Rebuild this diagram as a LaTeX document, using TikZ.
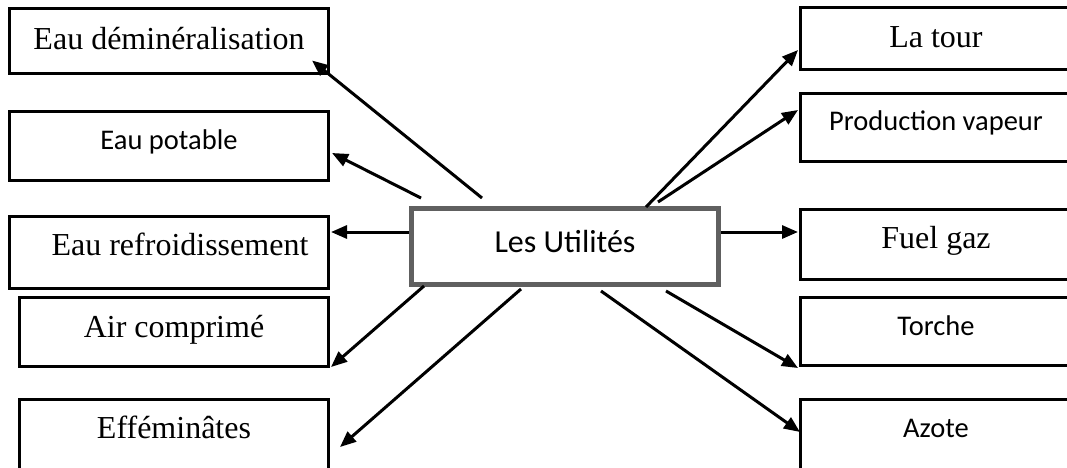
\documentclass[tikz,border=0pt]{standalone}
\usepackage{fontspec}
\setmainfont{Liberation Serif}
\newfontfamily\calibri{Carlito}
\usetikzlibrary{arrows.meta}
\definecolor{bordgris}{RGB}{96,96,96}
% texte centre sur 271pt, la boite continue au-dela du bord droit
\newcommand{\adroite}[1]{\makebox[271pt]{#1}\hspace*{60pt}}

\begin{document}
\begin{tikzpicture}[x=1pt, y=-1pt,
    boite/.style 2 args={draw, line width=3pt, inner sep=0pt, outer sep=0pt, anchor=north west,
        text height=#1, text depth=#2, font=\fontsize{32}{32}\selectfont},
    sans/.style={font=\calibri\fontsize{28.5}{28.5}\selectfont},
    fleche/.style={line width=3pt, -{Triangle[length=16pt,width=13pt]}}]
    \useasboundingbox (0,0) rectangle (1067,467);

    % colonne de gauche
    \node[boite={40.5pt}{24pt}, minimum width=319pt] (demin) at (9.5,8.5) {Eau déminéralisation};
    \node[boite={37.5pt}{31.5pt}, minimum width=319pt, sans] (potable) at (9.5,111.5) {Eau potable};
    \node[boite={38.5pt}{33.5pt}, minimum width=319pt] (refroid) at (9.5,216.5) {\hspace*{22pt}Eau refroidissement};
    \node[boite={39.5pt}{29.5pt}, minimum width=309pt] (air) at (19.5,297.5) {Air comprimé};
    \node[boite={38.5pt}{50pt}, minimum width=309pt] (effem) at (19.5,399.5) {Efféminâtes};

    % colonne de droite
    \node[boite={39.5pt}{22.5pt}] (tour) at (800.5,7.5) {\adroite{La tour}};
    \node[boite={36.5pt}{31.5pt}, sans] (vapeur) at (800.5,93.5) {\adroite{Production vapeur}};
    \node[boite={38.5pt}{31.5pt}] (fuel) at (800.5,209.5) {\adroite{Fuel gaz}};
    \node[boite={37.5pt}{30.5pt}, sans] (torche) at (800.5,297.5) {\adroite{Torche}};
    \node[boite={37.5pt}{50pt}, sans] (azote) at (800.5,399.5) {\adroite{Azote}};

    \node[boite={43.5pt}{32.5pt}, minimum width=307pt, draw=bordgris, line width=5pt,
        font=\calibri\fontsize{32}{32}\selectfont] (utilites) at (411.5,208.5) {Les Utilités};

    % fleches vers la gauche
    \draw[fleche] ([shift={(70.5,-10.5)}]utilites.north west) -- ([shift={(-16.5,-12.5)}]demin.south east);
    \draw[fleche] ([shift={(9.5,-10.5)}]utilites.north west) -- ([shift={(3.5,41.5)}]potable.north east);
    \draw[fleche] ([shift={(-2.5,23.5)}]utilites.north west) -- ([shift={(2.5,15.5)}]refroid.north east);
    \draw[fleche] ([shift={(12.5,1.5)}]utilites.south west) -- ([shift={(2.5,0.5)}]air.south east);
    \draw[fleche] ([shift={(109.5,4.5)}]utilites.south west) -- ([shift={(11.5,47.5)}]effem.north east);

    % fleches vers la droite
    \draw[fleche] ([shift={(-72.5,-1.5)}]utilites.north east) -- ([shift={(-2.5,42.5)}]tour.north west);
    \draw[fleche] ([shift={(-60.5,-6.5)}]utilites.north east) -- ([shift={(-2.5,16.5)}]vapeur.north west);
    \draw[fleche] ([shift={(2.5,23.5)}]utilites.north east) -- ([shift={(-2.5,22.5)}]fuel.north west);
    \draw[fleche] ([shift={(-52.5,6.5)}]utilites.south east) -- ([shift={(-2.5,2.5)}]torche.south west);
    \draw[fleche] ([shift={(-117.5,6.5)}]utilites.south east) -- ([shift={(-0.5,32.5)}]azote.north west);
\end{tikzpicture}
\end{document}
